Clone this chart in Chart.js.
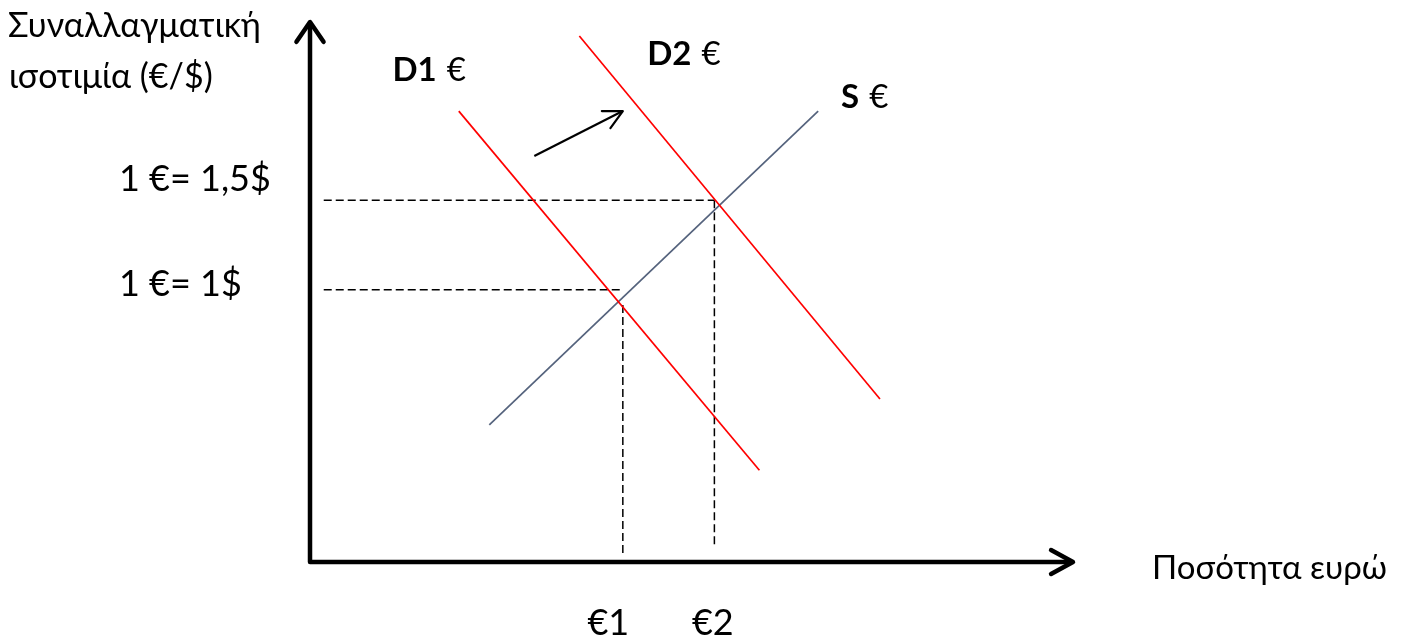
<!DOCTYPE html>
<html>
<head>
<meta charset="utf-8">
<script src="https://cdn.jsdelivr.net/npm/chart.js@4.4.1/dist/chart.umd.min.js"></script>
<style>
  html, body { margin: 0; padding: 0; background: #fff; }
  #wrap { width: 1404px; height: 638px; }
</style>
</head>
<body>
<div id="wrap"><canvas id="fx"></canvas></div>
<script>
// --- data (quantity of euro on x, exchange rate on y, both 0..100) ---
const d1Q = [19.5, 58.9];
const d1P = [83.5, 17.0];
const d2Q = [35.3, 74.7];
const d2P = [97.4, 30.2];
const sQ = [23.5, 66.6];
const sP = [25.4, 83.5];
const shiftQ = [29.4, 41.0];
const shiftP = [75.2, 83.5];

const eqQ = [41.0, 53.0];        // €1, €2
const eqP = [50.4, 67.0];        // 1€=1$, 1€=1,5$
const eqVTop = [47.6, 67.0];     // where the vertical guides start
const eqVBottom = [1.3, 3.2];    // where the vertical guides stop
const guideStart = 1.8;          // horizontal guides start just right of the axis

const qLabels = ['€1', '€2'];
const qLabelQ = [39.1, 52.8];
const pLabels = ['1 €= 1$', '1 €= 1,5$'];
const pLabelP = [49.3, 68.7];
const curveNames = ['D1', 'D2', 'S'];
const curveNameQ = [10.8, 44.2, 69.6];
const curveNameP = [89.1, 92.0, 84.1];

const yTitle = ['Συναλλαγματική', 'ισοτιμία (€/$)'];
const xTitle = 'Ποσότητα ευρώ';

const FONT = 'Lato, "Open Sans", sans-serif';

function pts(xs, ys) {
    return xs.map((x, i) => ({x: x, y: ys[i]}));
}

let datasets = [
    { label: 'D1', data: pts(d1Q, d1P), borderColor: '#ff0000', borderWidth: 1.7 },
    { label: 'D2', data: pts(d2Q, d2P), borderColor: '#ff0000', borderWidth: 1.7 },
    { label: 'S', data: pts(sQ, sP), borderColor: '#55637d', borderWidth: 1.7 },
    { label: 'shift', data: pts(shiftQ, shiftP), borderColor: '#000', borderWidth: 2.2 },
];
eqQ.forEach((q, i) => {
    datasets.push({ label: 'h' + i, data: [{x: guideStart, y: eqP[i]}, {x: q, y: eqP[i]}],
        borderColor: '#000', borderWidth: 1.5, borderDash: [8, 4] });
    datasets.push({ label: 'v' + i, data: [{x: q, y: eqVTop[i]}, {x: q, y: eqVBottom[i]}],
        borderColor: '#000', borderWidth: 1.5, borderDash: [8, 4] });
});
datasets.forEach(d => { d.showLine = true; d.pointRadius = 0; d.fill = false; });

function chevron(c, tipX, tipY, angle, len, spread) {
    c.beginPath();
    c.moveTo(tipX - len * Math.cos(angle - spread), tipY - len * Math.sin(angle - spread));
    c.lineTo(tipX, tipY);
    c.lineTo(tipX - len * Math.cos(angle + spread), tipY - len * Math.sin(angle + spread));
    c.stroke();
}

// axes, arrow heads and all the text
const diagramPlugin = {
    id: 'diagram',
    afterDatasetsDraw(chart) {
        const c = chart.ctx;
        const xs = chart.scales.x, ys = chart.scales.y;
        const x0 = xs.getPixelForValue(0), y0 = ys.getPixelForValue(0);
        const xEnd = xs.getPixelForValue(100), yEnd = ys.getPixelForValue(100);
        c.save();
        c.strokeStyle = '#000';
        c.lineCap = 'round';
        c.lineJoin = 'round';

        // axes
        c.lineWidth = 4.5;
        c.beginPath();
        c.moveTo(x0, yEnd + 2);
        c.lineTo(x0, y0);
        c.lineTo(xEnd - 2, y0);
        c.stroke();
        chevron(c, x0, yEnd, -Math.PI / 2, 24, 0.6);
        chevron(c, xEnd, y0, 0, 25, 0.5);

        // head of the shift arrow
        const ax1 = xs.getPixelForValue(shiftQ[1]), ay1 = ys.getPixelForValue(shiftP[1]);
        const ax0 = xs.getPixelForValue(shiftQ[0]), ay0 = ys.getPixelForValue(shiftP[0]);
        c.lineWidth = 2.2;
        chevron(c, ax1, ay1, Math.atan2(ay1 - ay0, ax1 - ax0), 21, 0.47);

        c.fillStyle = '#000';
        c.textBaseline = 'alphabetic';
        c.textAlign = 'left';

        // axis titles
        c.font = '34px ' + FONT;
        c.fillText(yTitle[0], 8, 37);
        c.fillText(yTitle[1], 9, 88);
        c.font = '33px ' + FONT;
        c.fillText(xTitle, 1152, 579);

        // price levels
        c.font = '36px ' + FONT;
        eqP.forEach((p, i) => c.fillText(pLabels[i], 119, ys.getPixelForValue(pLabelP[i])));

        // quantities
        c.textAlign = 'center';
        qLabels.forEach((t, i) => c.fillText(t, xs.getPixelForValue(qLabelQ[i]), y0 + 73));

        // curve names: bold letters, regular euro sign
        c.textAlign = 'left';
        curveNames.forEach((n, i) => {
            const px = xs.getPixelForValue(curveNameQ[i]);
            const py = ys.getPixelForValue(curveNameP[i]);
            c.font = 'bold 33px ' + FONT;
            c.fillText(n, px, py);
            const w = c.measureText(n).width;
            c.font = '33px ' + FONT;
            c.fillText('€', px + w + 10, py);
        });
        c.restore();
    }
};

new Chart(document.getElementById('fx'), {
    type: 'scatter',
    data: { datasets: datasets },
    options: {
        responsive: true,
        maintainAspectRatio: false,
        animation: false,
        layout: { padding: { left: 310, right: 331, top: 22, bottom: 76 } },
        scales: {
            x: { type: 'linear', min: 0, max: 100, display: false },
            y: { type: 'linear', min: 0, max: 100, display: false }
        },
        plugins: { legend: { display: false }, tooltip: { enabled: false } }
    },
    plugins: [diagramPlugin]
});
</script>
</body>
</html>
